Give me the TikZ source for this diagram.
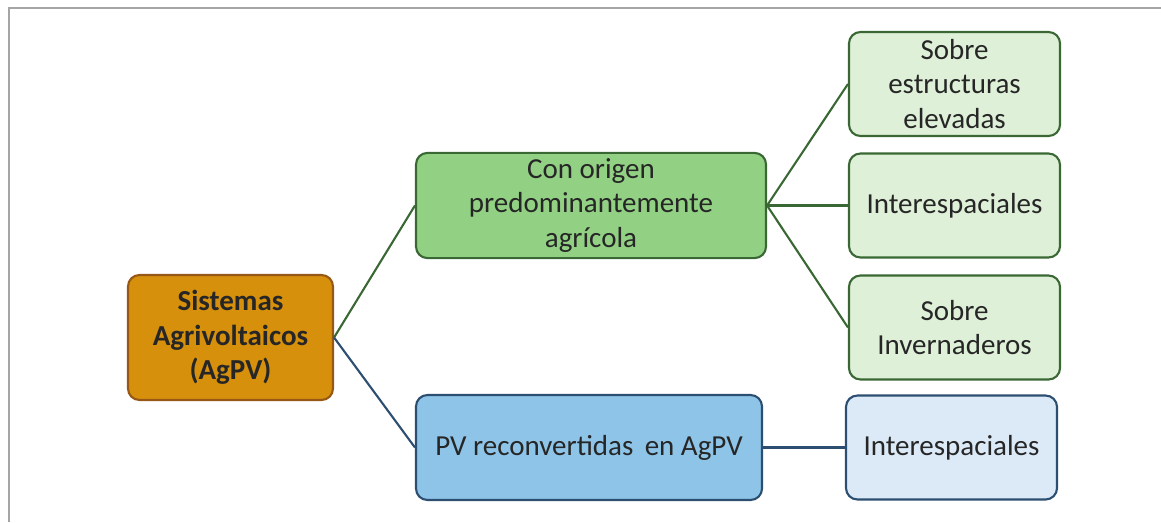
\documentclass[tikz,border=0pt]{standalone}
\usepackage{xcolor}
\usepackage{fontspec}
\setmainfont{Carlito}
\usepackage{tikz}
\usetikzlibrary{calc}

\definecolor{rootfill}{RGB}{214,144,12}
\definecolor{rootdraw}{RGB}{150,88,20}
\definecolor{agrifill}{RGB}{146,208,132}
\definecolor{agridraw}{RGB}{58,104,52}
\definecolor{leaffill}{RGB}{222,240,216}
\definecolor{pvfill}{RGB}{142,196,232}
\definecolor{pvdraw}{RGB}{44,78,112}
\definecolor{pvleaf}{RGB}{220,234,247}
\definecolor{framegray}{RGB}{165,165,165}

\tikzset{
  box/.style={rounded corners=6.5pt,line width=1.2pt,align=center,
    font=\fontsize{16.5}{19.5}\selectfont,text=black!85},
  rootbox/.style={box,fill=rootfill,draw=rootdraw,minimum width=4.1cm,
    minimum height=2.5cm,font=\fontsize{16.5}{19.5}\selectfont\bfseries},
  agribox/.style={box,fill=agrifill,draw=agridraw,minimum width=7cm,minimum height=2.1cm},
  leafbox/.style={box,fill=leaffill,draw=agridraw,minimum width=4.22cm,minimum height=2.08cm},
  pvbox/.style={box,fill=pvfill,draw=pvdraw,minimum width=6.92cm,minimum height=2.1cm},
  pvleafbox/.style={box,fill=pvleaf,draw=pvdraw,minimum width=4.22cm,minimum height=2.08cm},
  agrilink/.style={draw=agridraw,line width=1.2pt},
  pvlink/.style={draw=pvdraw,line width=1.2pt}
}

\begin{document}
\begin{tikzpicture}
  % Page size and screenshot frame
  \useasboundingbox (0,0) rectangle (23.22,10.44);
  \draw[framegray,line width=1.2pt] (0.18,0) -- (0.18,10.28) -- (23.22,10.28);

  % Root of the classification
  \node[rootbox] (agpv) at (4.61,3.69) {Sistemas\\Agrivoltaicos\\(AgPV)};

  % Second level
  \node[agribox] (agricola) at (11.82,6.33) {Con origen\\predominantemente\\agrícola};
  \node[pvbox] (reconv) at (11.78,1.49) {PV reconvertidas\, en AgPV};

  % Third level
  \node[leafbox] (elevadas) at (19.09,8.76) {Sobre\\estructuras\\elevadas};
  \node[leafbox] (interesp) at (19.09,6.33) {Interespaciales};
  \node[leafbox] (invern) at (19.09,3.89) {Sobre\\Invernaderos};
  \node[pvleafbox] (interpv) at (19.03,1.49) {Interespaciales};

  % Links
  \draw[agrilink] (agpv.east) -- (agricola.west);
  \draw[pvlink] (agpv.east) -- (reconv.west);
  \draw[agrilink] (agricola.east) -- (elevadas.west);
  \draw[agrilink] (agricola.east) -- (interesp.west);
  \draw[agrilink] (agricola.east) -- (invern.west);
  \draw[pvlink] (reconv.east) -- (interpv.west);

\end{tikzpicture}
\end{document}
